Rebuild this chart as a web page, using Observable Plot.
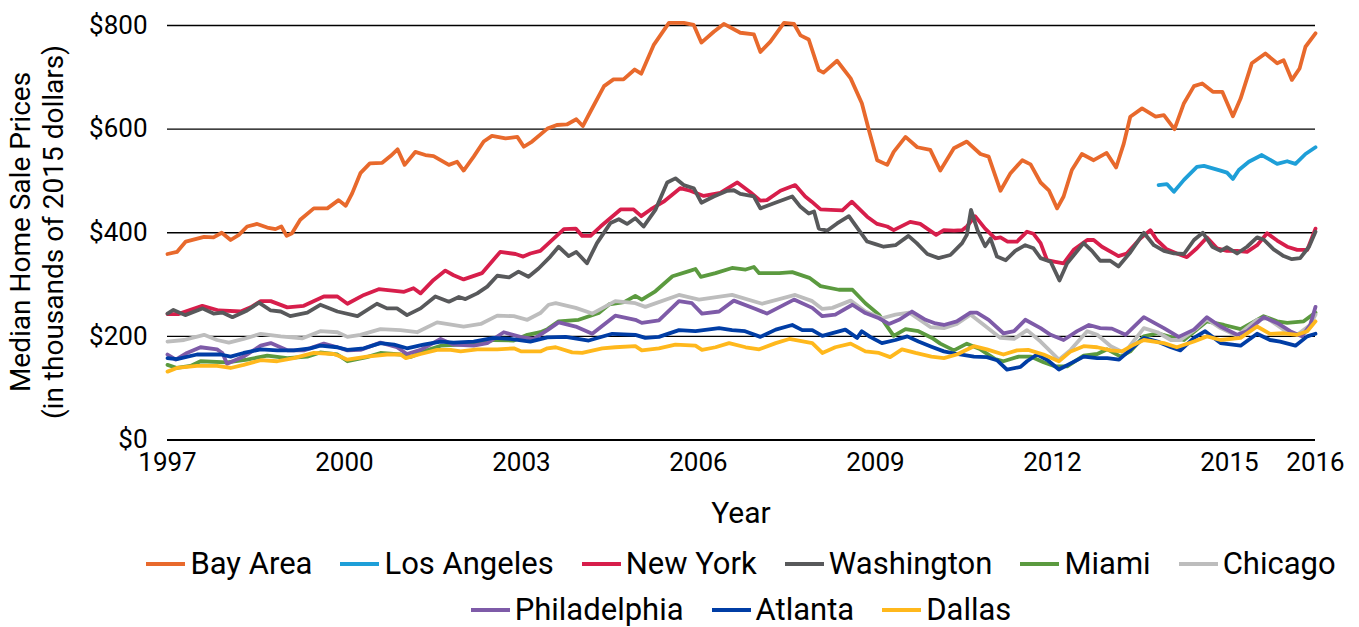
<!DOCTYPE html>
<html>
<head>
<meta charset="utf-8">
<script src="https://cdn.jsdelivr.net/npm/d3@7"></script>
<script src="https://cdn.jsdelivr.net/npm/@observablehq/plot@0.6"></script>
<style>
  html, body { margin: 0; padding: 0; background: #fff; }
  body { width: 1359px; height: 627px; overflow: hidden; font-family: Roboto, "Open Sans", sans-serif; }
  #legend { margin-left: 123px; width: 1236px; padding-top: 5px; }
  .lrow { display: flex; justify-content: center; height: 46px; align-items: center; }
  .litem { display: flex; align-items: center; margin: 0 14px; font-size: 31px; color: #000; }
  .sw { width: 39px; height: 4px; margin-right: 5px; margin-top: 1px; }
</style>
</head>
<body>
<div id="chart"></div>
<div id="legend"></div>
<script>
// ---- data (year, median price in thousands of 2015 dollars) ----
const cities = ["Bay Area", "Los Angeles", "New York", "Washington", "Miami", "Chicago", "Philadelphia", "Atlanta", "Dallas"];
const colors = ["#E8692C", "#1E9FD8", "#D71E4B", "#58595B", "#5B9A3F", "#BDBDBD", "#7E5BA8", "#003DA5", "#FFB81C"];
const yTicks = [0, 200, 400, 600, 800];
const xTicks = [1997, 2000, 2003, 2006, 2009, 2012, 2015, 2016.46];

const bayArea = [[1997.00,359],[1997.16,363],[1997.31,383],[1997.62,392],[1997.78,391],[1997.92,400],[1998.07,386],[1998.21,396],[1998.35,412],[1998.52,417],[1998.69,410],[1998.83,407],[1998.93,412],[1999.02,394],[1999.11,399],[1999.25,425],[1999.48,447],[1999.71,447],[1999.90,463],[2000.02,452],[2000.13,476],[2000.27,515],[2000.43,534],[2000.64,535],[2000.78,548],[2000.90,561],[2001.02,531],[2001.20,556],[2001.37,550],[2001.51,548],[2001.77,531],[2001.91,537],[2002.02,520],[2002.19,547],[2002.36,576],[2002.50,587],[2002.73,582],[2002.93,585],[2003.04,566],[2003.18,576],[2003.44,601],[2003.60,608],[2003.77,609],[2003.93,619],[2004.04,606],[2004.17,634],[2004.40,683],[2004.56,696],[2004.73,696],[2004.92,715],[2005.03,707],[2005.24,762],[2005.50,805],[2005.75,805],[2005.92,801],[2006.05,767],[2006.26,788],[2006.43,803],[2006.71,786],[2006.94,783],[2007.05,749],[2007.22,769],[2007.45,805],[2007.62,803],[2007.73,781],[2007.87,773],[2008.04,714],[2008.12,709],[2008.35,732],[2008.58,698],[2008.77,650],[2008.89,598],[2009.03,540],[2009.20,531],[2009.31,556],[2009.51,585],[2009.71,565],[2009.93,560],[2010.10,520],[2010.33,563],[2010.55,576],[2010.78,552],[2010.92,547],[2011.12,481],[2011.29,515],[2011.49,540],[2011.63,532],[2011.80,497],[2011.94,482],[2012.08,447],[2012.19,470],[2012.33,521],[2012.50,552],[2012.70,540],[2012.92,554],[2013.08,526],[2013.21,572],[2013.32,624],[2013.52,640],[2013.75,624],[2013.89,627],[2014.07,600],[2014.23,650],[2014.40,683],[2014.54,688],[2014.72,672],[2014.88,672],[2015.06,625],[2015.19,659],[2015.38,727],[2015.61,746],[2015.81,727],[2015.92,733],[2016.06,695],[2016.19,717],[2016.29,759],[2016.46,785]];

const losAngeles = [[2013.80,492],[2013.94,494],[2014.06,479],[2014.23,502],[2014.45,527],[2014.57,529],[2014.85,520],[2014.96,516],[2015.06,504],[2015.16,521],[2015.33,537],[2015.55,550],[2015.81,533],[2015.98,538],[2016.12,533],[2016.29,552],[2016.46,565]];

const newYork = [[1997.00,243],[1997.18,243],[1997.59,259],[1997.87,250],[1998.24,248],[1998.41,256],[1998.58,268],[1998.75,268],[1999.03,256],[1999.31,259],[1999.65,277],[1999.88,277],[2000.05,263],[2000.33,280],[2000.58,291],[2001.01,286],[2001.17,293],[2001.29,283],[2001.51,309],[2001.71,327],[2001.85,318],[2002.02,310],[2002.33,322],[2002.64,363],[2002.90,359],[2003.03,354],[2003.15,360],[2003.32,365],[2003.49,383],[2003.72,407],[2003.92,408],[2004.03,394],[2004.17,394],[2004.34,412],[2004.68,445],[2004.90,445],[2005.03,432],[2005.19,445],[2005.41,460],[2005.69,486],[2005.86,481],[2006.09,471],[2006.37,477],[2006.66,497],[2006.88,478],[2007.05,462],[2007.16,463],[2007.39,481],[2007.64,492],[2007.81,470],[2007.92,460],[2008.07,445],[2008.24,444],[2008.44,443],[2008.60,460],[2008.86,431],[2009.03,417],[2009.20,412],[2009.31,405],[2009.59,421],[2009.76,417],[2010.03,396],[2010.16,405],[2010.33,404],[2010.47,405],[2010.55,412],[2010.69,432],[2010.86,408],[2011.03,389],[2011.12,391],[2011.24,383],[2011.40,383],[2011.57,402],[2011.68,398],[2011.80,380],[2011.91,347],[2012.05,344],[2012.19,341],[2012.36,367],[2012.59,386],[2012.70,386],[2012.84,373],[2013.12,355],[2013.26,360],[2013.49,389],[2013.66,405],[2013.77,386],[2013.94,368],[2014.11,360],[2014.28,353],[2014.45,370],[2014.62,391],[2014.79,370],[2014.96,365],[2015.13,365],[2015.30,363],[2015.47,376],[2015.64,399],[2015.81,385],[2015.98,373],[2016.15,367],[2016.32,367],[2016.46,408]];

const washington = [[1997.00,244],[1997.10,251],[1997.30,241],[1997.59,254],[1997.78,244],[1997.93,246],[1998.10,237],[1998.35,250],[1998.55,265],[1998.75,250],[1998.92,248],[1999.08,239],[1999.37,246],[1999.59,261],[1999.88,248],[2000.22,239],[2000.55,263],[2000.72,254],[2000.89,254],[2001.06,241],[2001.29,254],[2001.54,277],[2001.77,267],[2001.94,276],[2002.05,272],[2002.25,283],[2002.42,296],[2002.59,317],[2002.79,314],[2002.95,325],[2003.12,315],[2003.29,331],[2003.49,354],[2003.63,373],[2003.80,355],[2003.93,363],[2004.11,341],[2004.28,380],[2004.51,419],[2004.65,426],[2004.79,417],[2004.93,428],[2005.07,412],[2005.27,444],[2005.47,497],[2005.61,505],[2005.75,492],[2005.92,486],[2006.05,458],[2006.26,470],[2006.49,481],[2006.60,482],[2006.71,475],[2006.94,470],[2007.05,447],[2007.28,457],[2007.59,470],[2007.73,450],[2007.87,437],[2007.96,441],[2008.04,408],[2008.18,404],[2008.35,418],[2008.55,432],[2008.72,405],[2008.86,383],[2009.00,378],[2009.14,373],[2009.34,376],[2009.56,394],[2009.70,380],[2009.88,359],[2010.07,351],[2010.27,357],[2010.47,380],[2010.55,396],[2010.62,444],[2010.73,405],[2010.86,374],[2010.95,389],[2011.06,354],[2011.21,347],[2011.37,365],[2011.54,376],[2011.68,370],[2011.80,351],[2011.97,344],[2012.12,308],[2012.25,341],[2012.53,380],[2012.67,365],[2012.81,346],[2012.98,346],[2013.12,335],[2013.32,362],[2013.55,400],[2013.72,376],[2013.89,365],[2014.06,360],[2014.23,359],[2014.40,386],[2014.55,400],[2014.71,373],[2014.85,365],[2014.96,372],[2015.13,360],[2015.30,373],[2015.47,391],[2015.58,387],[2015.75,368],[2015.92,355],[2016.06,349],[2016.20,351],[2016.35,373],[2016.46,402]];

const miami = [[1997.00,145],[1997.16,139],[1997.39,143],[1997.56,152],[1998.01,150],[1998.35,155],[1998.69,163],[1999.03,158],[1999.37,161],[1999.59,169],[1999.88,165],[2000.05,152],[2000.38,160],[2000.61,168],[2000.95,165],[2001.12,160],[2001.40,173],[2001.63,182],[2001.97,184],[2002.31,187],[2002.53,193],[2002.87,192],[2003.10,203],[2003.32,208],[2003.44,214],[2003.63,229],[2003.97,232],[2004.31,245],[2004.49,262],[2004.74,266],[2004.93,278],[2005.04,271],[2005.27,287],[2005.56,316],[2005.84,326],[2005.95,330],[2006.04,315],[2006.29,322],[2006.57,332],[2006.80,329],[2006.94,334],[2007.03,322],[2007.37,322],[2007.59,324],[2007.88,313],[2008.07,297],[2008.38,290],[2008.61,290],[2008.83,264],[2009.06,242],[2009.31,201],[2009.51,214],[2009.73,210],[2009.96,197],[2010.10,186],[2010.33,173],[2010.55,186],[2010.78,175],[2011.03,156],[2011.17,152],[2011.43,161],[2011.63,161],[2011.85,150],[2012.05,142],[2012.25,142],[2012.53,163],[2012.76,166],[2012.93,175],[2013.16,161],[2013.32,171],[2013.55,200],[2013.78,206],[2014.06,197],[2014.23,193],[2014.62,229],[2014.91,222],[2015.19,214],[2015.47,232],[2015.58,239],[2015.81,229],[2015.98,226],[2016.26,229],[2016.46,246]];

const chicago = [[1997.00,190],[1997.28,193],[1997.62,203],[1997.84,193],[1998.04,188],[1998.29,195],[1998.58,205],[1998.92,200],[1999.28,196],[1999.59,210],[1999.88,208],[2000.05,199],[2000.27,203],[2000.61,214],[2000.95,212],[2001.23,208],[2001.57,227],[2002.02,219],[2002.31,224],[2002.59,240],[2002.87,239],[2003.10,232],[2003.32,245],[2003.46,261],[2003.58,264],[2003.92,255],[2004.20,244],[2004.59,268],[2004.93,264],[2005.10,257],[2005.67,280],[2006.01,271],[2006.57,280],[2007.08,263],[2007.64,280],[2007.93,268],[2008.10,253],[2008.27,255],[2008.58,269],[2008.83,248],[2009.11,235],[2009.34,242],[2009.57,246],[2009.93,218],[2010.16,216],[2010.38,224],[2010.61,242],[2010.84,222],[2011.12,197],[2011.35,195],[2011.57,212],[2011.80,190],[2012.11,155],[2012.31,174],[2012.59,210],[2012.76,203],[2012.99,181],[2013.22,168],[2013.55,216],[2013.78,208],[2014.01,193],[2014.17,193],[2014.45,216],[2014.62,233],[2014.85,216],[2015.13,201],[2015.47,232],[2015.64,235],[2015.92,213],[2016.15,203],[2016.37,222],[2016.46,242]];

const philadelphia = [[1997.00,165],[1997.14,155],[1997.33,168],[1997.56,179],[1997.84,175],[1997.93,168],[1998.01,147],[1998.29,161],[1998.58,182],[1998.75,187],[1999.03,173],[1999.31,173],[1999.65,186],[1999.88,179],[2000.05,173],[2000.27,174],[2000.61,188],[2000.89,179],[2001.06,166],[2001.29,174],[2001.63,195],[2001.85,184],[2002.19,182],[2002.42,187],[2002.70,208],[2002.98,199],[2003.21,195],[2003.44,212],[2003.63,227],[2003.92,219],[2004.20,205],[2004.59,240],[2004.93,232],[2005.04,226],[2005.33,231],[2005.67,268],[2005.89,264],[2006.06,244],[2006.35,248],[2006.60,269],[2006.97,253],[2007.16,244],[2007.62,271],[2007.93,255],[2008.10,239],[2008.32,242],[2008.61,261],[2008.83,245],[2009.06,235],[2009.23,224],[2009.40,232],[2009.62,248],[2009.85,232],[2010.02,225],[2010.16,222],[2010.38,229],[2010.61,246],[2010.72,246],[2010.92,232],[2011.17,206],[2011.35,210],[2011.54,232],[2011.80,216],[2011.97,203],[2012.19,193],[2012.42,210],[2012.62,222],[2012.81,216],[2013.01,215],[2013.24,203],[2013.55,237],[2013.89,216],[2014.14,199],[2014.40,213],[2014.62,237],[2014.85,219],[2015.13,203],[2015.30,210],[2015.58,237],[2015.81,226],[2016.03,210],[2016.23,200],[2016.37,222],[2016.46,257]];

const atlanta = [[1997.00,158],[1997.16,156],[1997.50,165],[1997.90,165],[1998.07,161],[1998.29,168],[1998.58,175],[1998.86,173],[1999.14,173],[1999.42,177],[1999.59,182],[1999.88,179],[2000.05,174],[2000.33,177],[2000.61,187],[2000.84,184],[2001.06,177],[2001.34,184],[2001.63,190],[2001.85,188],[2002.19,190],[2002.53,197],[2002.81,195],[2003.15,190],[2003.44,198],[2003.75,199],[2004.14,192],[2004.54,205],[2004.93,203],[2005.10,197],[2005.33,199],[2005.67,212],[2005.95,210],[2006.35,216],[2006.57,212],[2006.79,210],[2007.05,199],[2007.31,213],[2007.59,222],[2007.76,212],[2007.93,212],[2008.10,201],[2008.49,213],[2008.69,197],[2008.77,210],[2008.91,199],[2009.11,187],[2009.34,193],[2009.54,200],[2009.73,190],[2009.95,180],[2010.16,171],[2010.38,166],[2010.67,161],[2010.89,160],[2011.06,154],[2011.23,136],[2011.46,141],[2011.57,152],[2011.74,165],[2011.91,155],[2012.11,136],[2012.31,148],[2012.53,161],[2012.76,158],[2012.93,158],[2013.13,155],[2013.32,174],[2013.55,197],[2013.78,190],[2014.01,179],[2014.17,173],[2014.40,197],[2014.59,210],[2014.85,187],[2015.19,182],[2015.47,205],[2015.69,193],[2015.86,190],[2016.12,182],[2016.32,200],[2016.46,205]];

const dallas = [[1997.00,132],[1997.16,139],[1997.50,143],[1997.84,143],[1998.07,139],[1998.29,145],[1998.58,154],[1998.86,152],[1999.14,158],[1999.48,168],[1999.82,166],[1999.93,161],[2000.05,155],[2000.38,161],[2000.72,165],[2000.95,165],[2001.04,158],[2001.29,166],[2001.57,174],[2001.80,174],[2001.97,171],[2002.25,175],[2002.59,175],[2002.87,177],[2003.00,171],[2003.32,171],[2003.44,177],[2003.58,179],[2003.86,169],[2004.03,168],[2004.37,177],[2004.59,179],[2004.93,181],[2005.04,173],[2005.33,177],[2005.61,184],[2005.95,182],[2006.06,174],[2006.29,179],[2006.52,187],[2006.80,179],[2007.03,175],[2007.31,187],[2007.54,195],[2007.93,187],[2008.10,168],[2008.32,179],[2008.58,186],[2008.83,171],[2009.06,168],[2009.25,160],[2009.45,175],[2009.68,168],[2009.95,161],[2010.16,158],[2010.38,165],[2010.67,181],[2010.89,175],[2011.17,165],[2011.40,173],[2011.59,174],[2011.85,165],[2012.11,152],[2012.31,171],[2012.53,181],[2012.76,179],[2012.99,173],[2013.18,171],[2013.38,184],[2013.55,193],[2013.89,187],[2014.11,179],[2014.40,190],[2014.62,200],[2014.85,193],[2015.19,197],[2015.47,219],[2015.69,205],[2015.92,206],[2016.15,203],[2016.32,210],[2016.46,229]];

const seriesList = [bayArea, losAngeles, newYork, washington, miami, chicago, philadelphia, atlanta, dallas];

const rows = [];
seriesList.forEach((s, i) => s.forEach(([year, value]) => rows.push({city: cities[i], year, value})));

const chart = Plot.plot({
  width: 1359,
  height: 535,
  marginLeft: 167,
  marginRight: 44,
  marginTop: 25,
  marginBottom: 95.5,
  style: {fontFamily: "Roboto, sans-serif", fontSize: "26px", color: "#000", background: "#fff"},
  x: {domain: [1997, 2016.46], ticks: xTicks, tickFormat: d => String(Math.floor(d)), tickSize: 0, tickPadding: 13, label: null},
  y: {domain: [0, 800], ticks: yTicks, tickFormat: d => "$" + d, tickSize: 0, tickPadding: 20, label: null},
  color: {domain: cities, range: colors},
  marks: [
    Plot.ruleY(yTicks.filter(d => d > 0), {stroke: "#000", strokeWidth: 1.3}),
    Plot.ruleY([0], {stroke: "#000", strokeWidth: 1.8}),
    Plot.line(rows, {x: "year", y: "value", z: "city", stroke: "city", strokeWidth: 3.8, strokeLinejoin: "round", strokeLinecap: "round"})
  ]
});
document.getElementById("chart").appendChild(chart);

// axis titles
const svg = d3.select(chart);
const ytitle = svg.append("g").attr("font-family", "Roboto, sans-serif").attr("font-size", 28).attr("fill", "#000").attr("text-anchor", "middle");
ytitle.append("text").attr("transform", "translate(20,232) rotate(-90)").attr("dy", "0.35em").text("Median Home Sale Prices");
ytitle.append("text").attr("transform", "translate(53,232) rotate(-90)").attr("dy", "0.35em").text("(in thousands of 2015 dollars)");
svg.append("text").attr("x", 741).attr("y", 512).attr("dy", "0.35em").attr("text-anchor", "middle")
  .attr("font-family", "Roboto, sans-serif").attr("font-size", 30).attr("fill", "#000").text("Year");

// legend
const legend = d3.select("#legend");
const legendRows = [cities.slice(0, 6), cities.slice(6)];
legendRows.forEach(r => {
  const row = legend.append("div").attr("class", "lrow");
  r.forEach(c => {
    const it = row.append("div").attr("class", "litem");
    it.append("div").attr("class", "sw").style("background", colors[cities.indexOf(c)]);
    it.append("span").text(c);
  });
});
</script>
</body>
</html>
